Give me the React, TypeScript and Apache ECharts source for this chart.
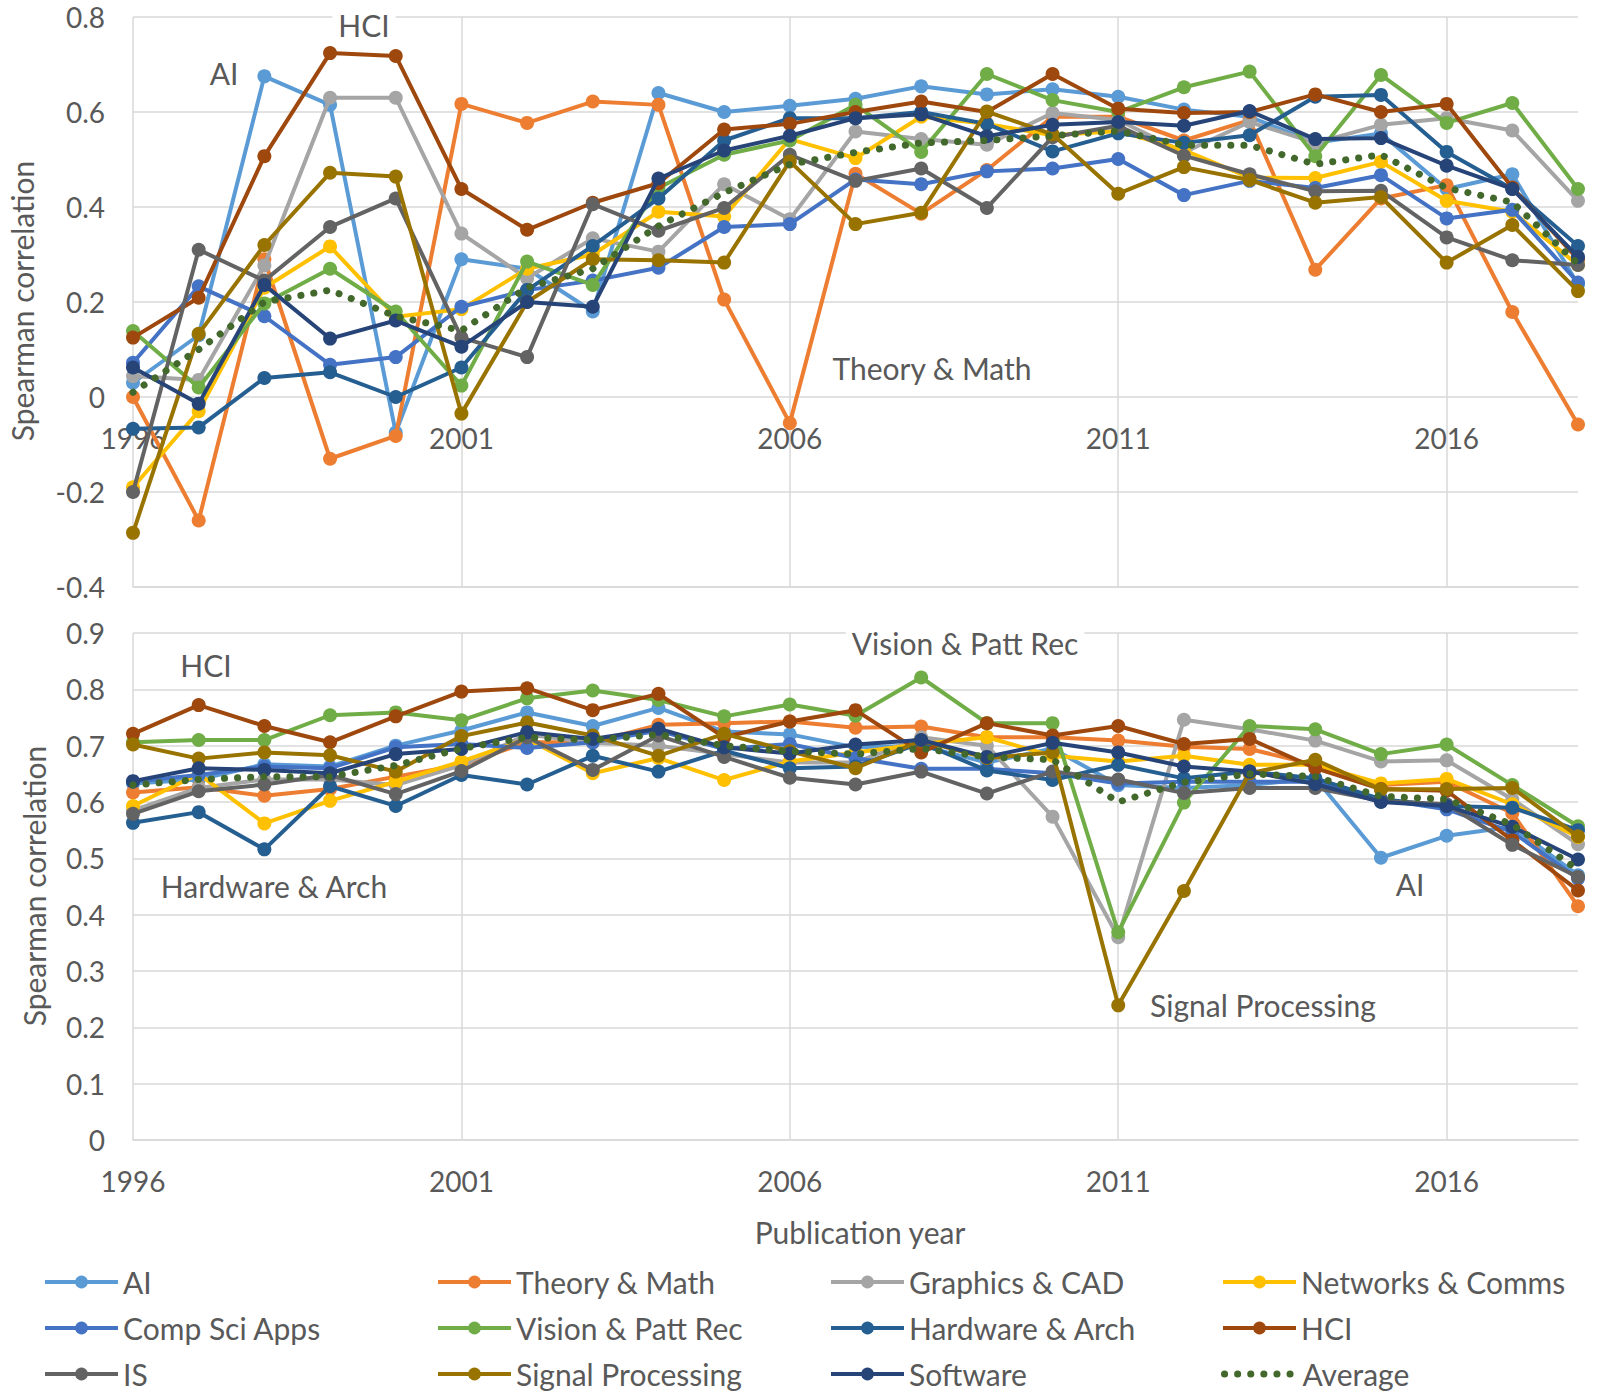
import React, { useEffect, useRef } from "react";
import * as echarts from "echarts";

const years = [
  "1996", "1997", "1998", "1999", "2000", "2001", "2002", "2003", "2004", "2005", "2006", "2007",
  "2008", "2009", "2010", "2011", "2012", "2013", "2014", "2015", "2016", "2017", "2018",
];

const seriesNames = [
  "AI", "Theory & Math", "Graphics & CAD", "Networks & Comms",
  "Comp Sci Apps", "Vision & Patt Rec", "Hardware & Arch", "HCI",
  "IS", "Signal Processing", "Software", "Average",
];

const seriesColors = [
  "#5B9BD5", "#ED7D31", "#A5A5A5", "#FFC000",
  "#4472C4", "#70AD47", "#255E91", "#9E480E",
  "#636363", "#997300", "#264478", "#43682B",
];

// ---- Top panel values ----
const topAI = [0.03, 0.13, 0.675, 0.615, -0.075, 0.29, 0.27, 0.18, 0.64, 0.6, 0.613, 0.628, 0.654, 0.637, 0.648, 0.632, 0.605, 0.59, 0.535, 0.555, 0.438, 0.469, 0.237];
const topTheory = [0, -0.26, 0.29, -0.13, -0.082, 0.617, 0.577, 0.622, 0.615, 0.205, -0.055, 0.47, 0.386, 0.478, 0.59, 0.59, 0.54, 0.583, 0.268, 0.418, 0.446, 0.179, -0.058];
const topGraphics = [0.044, 0.036, 0.277, 0.63, 0.63, 0.344, 0.25, 0.334, 0.306, 0.448, 0.374, 0.559, 0.543, 0.531, 0.598, 0.583, 0.515, 0.579, 0.535, 0.573, 0.587, 0.561, 0.413];
const topNetworks = [-0.19, -0.03, 0.23, 0.317, 0.169, 0.185, 0.27, 0.3, 0.39, 0.38, 0.543, 0.503, 0.59, 0.575, 0.551, 0.56, 0.52, 0.462, 0.461, 0.495, 0.413, 0.39, 0.278];
const topCompSci = [0.072, 0.233, 0.17, 0.068, 0.084, 0.19, 0.225, 0.245, 0.272, 0.358, 0.364, 0.458, 0.448, 0.475, 0.481, 0.501, 0.425, 0.455, 0.44, 0.467, 0.376, 0.394, 0.241];
const topVision = [0.139, 0.02, 0.197, 0.27, 0.18, 0.024, 0.285, 0.236, 0.44, 0.51, 0.54, 0.615, 0.516, 0.68, 0.625, 0.6, 0.652, 0.685, 0.507, 0.678, 0.577, 0.619, 0.438];
const topHardware = [-0.067, -0.064, 0.04, 0.052, 0, 0.062, 0.225, 0.318, 0.418, 0.54, 0.587, 0.587, 0.6, 0.575, 0.517, 0.555, 0.535, 0.551, 0.632, 0.636, 0.516, 0.438, 0.318];
const topHCI = [0.125, 0.209, 0.507, 0.724, 0.718, 0.438, 0.352, 0.409, 0.45, 0.563, 0.575, 0.6, 0.622, 0.6, 0.68, 0.607, 0.598, 0.6, 0.637, 0.6, 0.617, 0.441, 0.29];
const topIS = [-0.2, 0.31, 0.245, 0.358, 0.418, 0.125, 0.084, 0.406, 0.35, 0.398, 0.51, 0.455, 0.481, 0.398, 0.547, 0.571, 0.508, 0.469, 0.433, 0.434, 0.336, 0.288, 0.278];
const topSignal = [-0.286, 0.133, 0.32, 0.472, 0.464, -0.035, 0.2, 0.29, 0.288, 0.283, 0.496, 0.364, 0.388, 0.601, 0.553, 0.428, 0.484, 0.457, 0.409, 0.421, 0.283, 0.362, 0.223];
const topSoftware = [0.062, -0.014, 0.236, 0.123, 0.161, 0.106, 0.2, 0.19, 0.46, 0.519, 0.55, 0.587, 0.595, 0.549, 0.573, 0.579, 0.571, 0.602, 0.543, 0.545, 0.487, 0.438, 0.295];
const topAverage = [0.01, 0.1, 0.2, 0.225, 0.17, 0.14, 0.23, 0.27, 0.36, 0.43, 0.49, 0.515, 0.535, 0.54, 0.55, 0.56, 0.53, 0.53, 0.49, 0.51, 0.44, 0.41, 0.28];

// ---- Bottom panel values ----
const botAI = [0.633, 0.64, 0.667, 0.663, 0.7, 0.727, 0.759, 0.735, 0.767, 0.725, 0.72, 0.697, 0.7, 0.67, 0.695, 0.63, 0.625, 0.63, 0.642, 0.501, 0.54, 0.556, 0.47];
const botTheory = [0.617, 0.626, 0.611, 0.623, 0.645, 0.666, 0.706, 0.706, 0.737, 0.74, 0.743, 0.732, 0.734, 0.715, 0.715, 0.709, 0.698, 0.694, 0.666, 0.63, 0.636, 0.58, 0.415];
const botGraphics = [0.585, 0.625, 0.64, 0.64, 0.63, 0.665, 0.72, 0.705, 0.7, 0.685, 0.67, 0.67, 0.715, 0.7, 0.574, 0.36, 0.746, 0.729, 0.709, 0.672, 0.674, 0.605, 0.525];
const botNetworks = [0.593, 0.65, 0.562, 0.602, 0.636, 0.672, 0.712, 0.651, 0.678, 0.639, 0.672, 0.688, 0.703, 0.715, 0.682, 0.672, 0.682, 0.666, 0.666, 0.633, 0.641, 0.596, 0.538];
const botCompSci = [0.636, 0.648, 0.663, 0.66, 0.697, 0.703, 0.696, 0.706, 0.727, 0.694, 0.703, 0.678, 0.659, 0.659, 0.651, 0.633, 0.636, 0.636, 0.636, 0.605, 0.587, 0.547, 0.464];
const botVision = [0.706, 0.71, 0.71, 0.754, 0.759, 0.745, 0.784, 0.798, 0.781, 0.752, 0.773, 0.753, 0.821, 0.74, 0.74, 0.369, 0.599, 0.735, 0.729, 0.685, 0.702, 0.63, 0.557];
const botHardware = [0.563, 0.582, 0.516, 0.628, 0.593, 0.648, 0.631, 0.682, 0.654, 0.691, 0.66, 0.663, 0.705, 0.656, 0.639, 0.666, 0.642, 0.654, 0.642, 0.605, 0.593, 0.59, 0.55];
const botHCI = [0.721, 0.772, 0.735, 0.706, 0.752, 0.796, 0.802, 0.763, 0.792, 0.715, 0.743, 0.763, 0.688, 0.74, 0.718, 0.735, 0.703, 0.712, 0.66, 0.623, 0.62, 0.532, 0.443];
const botIS = [0.579, 0.619, 0.631, 0.648, 0.614, 0.655, 0.715, 0.657, 0.718, 0.68, 0.643, 0.631, 0.654, 0.615, 0.654, 0.64, 0.616, 0.625, 0.625, 0.602, 0.596, 0.524, 0.467];
const botSignal = [0.702, 0.677, 0.688, 0.683, 0.654, 0.717, 0.741, 0.718, 0.682, 0.721, 0.69, 0.66, 0.709, 0.678, 0.688, 0.239, 0.442, 0.651, 0.675, 0.622, 0.623, 0.625, 0.539];
const botSoftware = [0.637, 0.66, 0.657, 0.651, 0.685, 0.694, 0.724, 0.712, 0.73, 0.697, 0.686, 0.702, 0.71, 0.68, 0.705, 0.688, 0.663, 0.654, 0.632, 0.6, 0.593, 0.556, 0.498];
const botAverage = [0.63, 0.64, 0.645, 0.645, 0.665, 0.695, 0.715, 0.71, 0.72, 0.7, 0.69, 0.685, 0.695, 0.68, 0.675, 0.6, 0.635, 0.65, 0.645, 0.61, 0.605, 0.56, 0.48];

const topData = [topAI, topTheory, topGraphics, topNetworks, topCompSci, topVision, topHardware, topHCI, topIS, topSignal, topSoftware, topAverage];
const botData = [botAI, botTheory, botGraphics, botNetworks, botCompSci, botVision, botHardware, botHCI, botIS, botSignal, botSoftware, botAverage];

const topTicks = { min: -0.4, max: 0.8, interval: 0.2 };
const botTicks = { min: 0, max: 0.9, interval: 0.1 };

// legend layout: rows of 4 names
const legendRows = [
  ["AI", "Theory & Math", "Graphics & CAD", "Networks & Comms"],
  ["Comp Sci Apps", "Vision & Patt Rec", "Hardware & Arch", "HCI"],
  ["IS", "Signal Processing", "Software", "Average"],
];
const legendColLeft = [43, 436, 829, 1221];
const legendRowCenter = [1282, 1328, 1374];

const FONT = "Lato";
const TEXT_COLOR = "#595959";
const GRID_COLOR = "#D9D9D9";
const AVG_DASH = [0.1, 13];

function makeSeries(data: number[][], axisIndex: number) {
  return seriesNames.map((name, i) => {
    const isAvg = name === "Average";
    return {
      name,
      type: "line",
      xAxisIndex: axisIndex,
      yAxisIndex: axisIndex,
      data: data[i],
      symbol: isAvg ? "none" : "circle",
      symbolSize: 14,
      showAllSymbol: true,
      color: seriesColors[i],
      itemStyle: { color: seriesColors[i] },
      lineStyle: isAvg
        ? { color: seriesColors[i], width: 7, type: AVG_DASH, cap: "round" }
        : { color: seriesColors[i], width: 4 },
      emphasis: { disabled: true },
      z: 2 + i,
    };
  });
}

function xAxisDef(gridIndex: number, labelMargin: number) {
  return {
    type: "category",
    gridIndex,
    data: years,
    boundaryGap: false,
    axisLine: { show: true, onZero: false, lineStyle: { color: GRID_COLOR, width: 1.5 } },
    axisTick: { show: false },
    axisLabel: { interval: 4, margin: labelMargin, fontSize: 28, color: TEXT_COLOR, fontFamily: FONT },
    splitLine: { show: true, interval: 4, lineStyle: { color: GRID_COLOR, width: 1.5 } },
  };
}

function yAxisDef(gridIndex: number, t: { min: number; max: number; interval: number }) {
  return {
    type: "value",
    gridIndex,
    min: t.min,
    max: t.max,
    interval: t.interval,
    axisLine: { show: false },
    axisTick: { show: false },
    axisLabel: { margin: 28, fontSize: 28, color: TEXT_COLOR, fontFamily: FONT },
    splitLine: { show: true, lineStyle: { color: GRID_COLOR, width: 1.5 } },
  };
}

function annot(text: string, x: number, y: number) {
  return {
    type: "text",
    x,
    y,
    z: 100,
    style: {
      text,
      fontSize: 30,
      fontFamily: FONT,
      fill: TEXT_COLOR,
      align: "center",
      verticalAlign: "middle",
      backgroundColor: "#ffffff",
      padding: [3, 6],
    },
  };
}

export default function App() {
  const ref = useRef<HTMLDivElement>(null);

  useEffect(() => {
    document.body.style.margin = "0";
    if (!ref.current) return;
    const chart = echarts.init(ref.current, undefined, { renderer: "svg" });

    const legends: any[] = [];
    legendRows.forEach((row, ri) => {
      row.forEach((name, ci) => {
        const isAvg = name === "Average";
        const color = seriesColors[seriesNames.indexOf(name)];
        legends.push({
          orient: "horizontal",
          left: legendColLeft[ci],
          top: legendRowCenter[ri] - 15,
          padding: 0,
          itemWidth: 73,
          itemHeight: 16,
          itemGap: 0,
          data: [name],
          selectedMode: false,
          lineStyle: isAvg
            ? { color, width: 7, type: AVG_DASH, cap: "round" }
            : { color, width: 4 },
          itemStyle: isAvg ? { opacity: 0 } : { color },
          textStyle: { fontSize: 30, lineHeight: 30, color: TEXT_COLOR, fontFamily: FONT },
        });
      });
    });

    chart.setOption({
      animation: false,
      backgroundColor: "#ffffff",
      textStyle: { fontFamily: FONT },
      grid: [
        { left: 133, right: 22, top: 17, height: 570 },
        { left: 133, right: 22, top: 633, height: 507 },
      ],
      xAxis: [xAxisDef(0, -163), xAxisDef(1, 27)],
      yAxis: [yAxisDef(0, topTicks), yAxisDef(1, botTicks)],
      legend: legends,
      series: [...makeSeries(topData, 0), ...makeSeries(botData, 1)],
      graphic: [
        annot("AI", 224, 73),
        annot("HCI", 364, 25),
        annot("Theory & Math", 932, 368),
        annot("HCI", 206, 665),
        annot("Hardware & Arch", 274, 886),
        annot("Vision & Patt Rec", 965, 643),
        annot("Signal Processing", 1263, 1005),
        annot("AI", 1410, 884),
        {
          type: "text",
          x: 22,
          y: 301,
          rotation: Math.PI / 2,
          style: { text: "Spearman correlation", fontSize: 30, fontFamily: FONT, fill: TEXT_COLOR, align: "center", verticalAlign: "middle" },
        },
        {
          type: "text",
          x: 34,
          y: 886,
          rotation: Math.PI / 2,
          style: { text: "Spearman correlation", fontSize: 30, fontFamily: FONT, fill: TEXT_COLOR, align: "center", verticalAlign: "middle" },
        },
        {
          type: "text",
          x: 860,
          y: 1232,
          style: { text: "Publication year", fontSize: 30, fontFamily: FONT, fill: TEXT_COLOR, align: "center", verticalAlign: "middle" },
        },
      ],
    });

    return () => chart.dispose();
  }, []);

  return <div ref={ref} style={{ width: 1600, height: 1394 }} />;
}
